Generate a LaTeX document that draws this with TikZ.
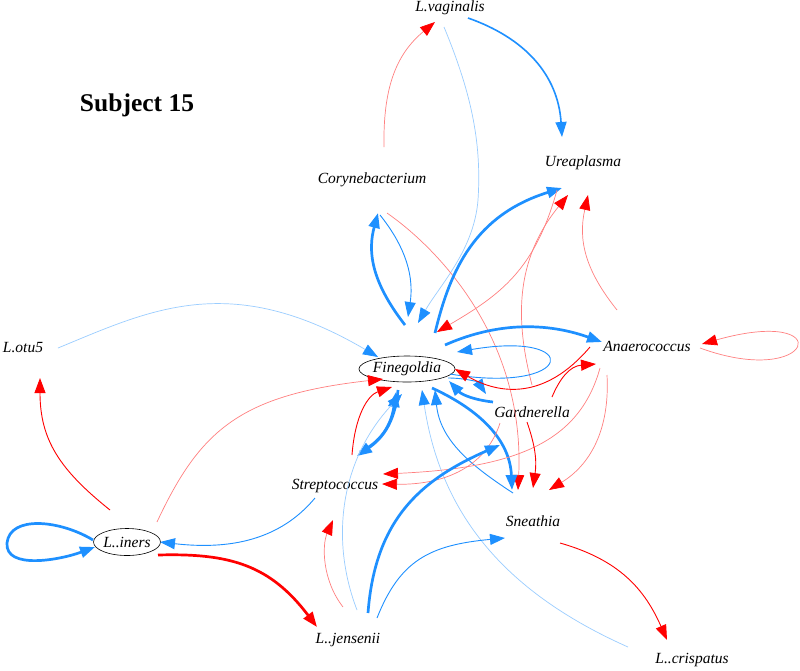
\documentclass[tikz,border=0pt]{standalone}
\usepackage{fontspec}
\setmainfont{Liberation Serif}
\usetikzlibrary{arrows.meta,shapes.geometric,calc}
\definecolor{myblue}{RGB}{30,144,255}
\definecolor{myred}{RGB}{255,0,0}
\begin{document}
\begin{tikzpicture}[x=1pt,y=-1pt,
  lab/.style={font=\fontsize{15.5}{18}\selectfont\itshape, inner sep=1pt},
  ell/.style={lab, ellipse, draw=black, line width=0.6pt, inner sep=0pt},
  bl/.style={draw=myblue, -{Triangle[length=15pt,width=11pt,color=myblue]}},
  rd/.style={draw=myred, -{Triangle[length=15pt,width=11pt,color=myred]}},
  blt/.style={draw=myblue!45, line width=0.7pt, -{Triangle[length=15pt,width=11pt,color=myblue]}},
  rlt/.style={draw=myred!50, line width=0.7pt, -{Triangle[length=15pt,width=11pt,color=myred]}},
  th/.style={line width=0.9pt},
  md/.style={line width=1.6pt},
  tk/.style={line width=2.7pt}]
\useasboundingbox (0,0) rectangle (800,670);
\fill[white] (0,0) rectangle (800,670);

\node[font=\fontsize{25.5}{30}\selectfont\bfseries] (title) at (137,105) {Subject 15};

\node[lab] (vag) at (450,8) {L.vaginalis};
\node[lab] (urea) at (583,163) {Ureaplasma};
\node[lab] (cory) at (372,180) {Corynebacterium};
\node[lab] (otu5) at (23,348) {L.otu5};
\node[ell, minimum width=87pt, minimum height=26pt] (fine) at (407,369) {Finegoldia};
\node[lab] (anae) at (647,346) {Anaerococcus};
\node[lab] (gard) at (532,412) {Gardnerella};
\node[lab] (strep) at (335,486) {Streptococcus};
\node[lab] (sneath) at (533,521) {Sneathia};
\node[ell, minimum width=65pt, minimum height=27pt] (iners) at (127,542) {L..iners};
\node[lab] (jens) at (348,640) {L..jensenii};
\node[lab] (cris) at (692,660) {L..crispatus};

% top region
\draw[bl,md] ($(vag)+(18,10)$) .. controls (525,38) and (558,75) .. ($(urea)+(-21,-26)$);
\draw[rlt] ($(cory)+(12,-33)$) .. controls (383,90) and (395,55) .. ($(vag)+(-15,14)$);
\draw[blt] ($(vag)+(-6,19)$) .. controls (470,90) and (482,140) .. (478,200) .. controls (474,250) and (440,285) .. ($(fine)+(11,-46)$);
\draw[bl,tk] ($(fine)+(-2,-44)$) .. controls (370,280) and (368,250) .. ($(cory)+(6,33)$);
\draw[bl,th] ($(cory)+(8,35)$) .. controls (400,240) and (415,270) .. ($(fine)+(1,-52)$);
\draw[rlt] ($(cory)+(15,33)$) .. controls (440,250) and (525,340) .. ($(sneath)+(-15,-31)$);
\draw[bl,tk] ($(fine)+(28,-36)$) .. controls (450,270) and (475,215) .. ($(urea)+(-21,25)$);
\draw[rlt] ($(urea)+(-26,27)$) .. controls (535,270) and (500,295) .. ($(fine)+(30,-37)$);
\draw[rlt] ($(gard)+(0,-27)$) .. controls (515,320) and (515,260) .. ($(urea)+(-15,32)$);
\draw[rlt] ($(anae)+(-30,-36)$) .. controls (585,270) and (578,240) .. ($(urea)+(5,32)$);

% Finegoldia right side
\draw[bl,tk] ($(fine)+(38,-24)$) .. controls (490,325) and (540,320) .. ($(anae)+(-45,-4)$);
\draw[bl,th] ($(fine)+(43,5)$) .. controls (575,395) and (585,330) .. ($(fine)+(50,-17)$);
\draw[bl,th] ($(fine)+(41,9)$) .. controls (465,378) and (478,382) .. ($(gard)+(-46,-18)$);
\draw[bl,tk] ($(gard)+(-39,-10)$) .. controls (475,400) and (462,395) .. ($(fine)+(42,12)$);
\draw[bl,tk] ($(fine)+(25,19)$) .. controls (480,410) and (510,440) .. ($(sneath)+(-21,-31)$);
\draw[bl,th] ($(sneath)+(-20,-28)$) .. controls (470,465) and (440,440) .. ($(fine)+(28,21)$);
\draw[blt] ($(cris)+(-64,-13)$) .. controls (500,590) and (440,510) .. ($(fine)+(15,21)$);

% Finegoldia - Streptococcus
\draw[bl,tk] ($(fine)+(-9,21)$) .. controls (395,425) and (380,440) .. ($(strep)+(22,-30)$);
\draw[bl,tk] ($(strep)+(25,-34)$) .. controls (385,440) and (392,420) .. ($(fine)+(-11,23)$);
\draw[rd,th] ($(strep)+(17,-31)$) .. controls (355,415) and (368,395) .. ($(fine)+(-15,18)$);
\draw[blt] ($(jens)+(9,-30)$) .. controls (330,540) and (340,460) .. ($(fine)+(-5,25)$);

% to Streptococcus
\draw[rlt] ($(gard)+(-32,11)$) .. controls (485,470) and (440,485) .. ($(strep)+(47,-2)$);
\draw[rlt] ($(anae)+(-47,22)$) .. controls (580,440) and (520,468) .. ($(strep)+(48,-12)$);

% Anaerococcus / Gardnerella / Sneathia
\draw[rd,th] ($(anae)+(-57,1)$) .. controls (545,400) and (500,395) .. ($(fine)+(48,0)$);
\draw[rd,th] ($(gard)+(20,-15)$) .. controls (560,378) and (570,366) .. ($(anae)+(-51,18)$);
\draw[rd,th] ($(gard)+(-5,10)$) .. controls (535,445) and (537,460) .. ($(sneath)+(0,-33)$);
\draw[rlt] ($(anae)+(-40,29)$) .. controls (610,430) and (590,465) .. ($(sneath)+(16,-31)$);
\draw[rlt] ($(anae)+(53,2)$) .. controls (815,390) and (840,305) .. ($(anae)+(55,-2)$);
\draw[rd,th] ($(sneath)+(27,22)$) .. controls (620,560) and (645,590) .. ($(cris)+(-25,-20)$);

% L..jensenii
\draw[bl,th] ($(jens)+(29,-22)$) .. controls (400,560) and (430,545) .. ($(sneath)+(-28,17)$);
\draw[bl,tk] ($(jens)+(20,-27)$) .. controls (375,520) and (420,480) .. ($(gard)+(-32,33)$);
\draw[rlt] ($(jens)+(-5,-33)$) .. controls (322,580) and (322,545) .. ($(strep)+(-2,34)$);

% L..iners
\draw[rd,tk] ($(iners)+(31,13)$) .. controls (230,553) and (270,565) .. ($(jens)+(-31,-13)$);
\draw[bl,th] ($(strep)+(-20,12)$) .. controls (280,540) and (230,550) .. ($(iners)+(33,0)$);
\draw[bl,tk] ($(iners)+(-34,-2)$) .. controls (60,520) and (10,515) .. (7,543) .. controls (5,570) and (60,560) .. ($(iners)+(-32,5)$);
\draw[rd,th] ($(iners)+(-17,-32)$) .. controls (60,470) and (40,440) .. ($(otu5)+(17,30)$);
\draw[rlt] ($(iners)+(30,-20)$) .. controls (200,430) and (240,395) .. ($(fine)+(-24,10)$);
\draw[blt] ($(otu5)+(35,0)$) .. controls (150,310) and (230,270) .. ($(fine)+(-29,-12)$);
\end{tikzpicture}
\end{document}
